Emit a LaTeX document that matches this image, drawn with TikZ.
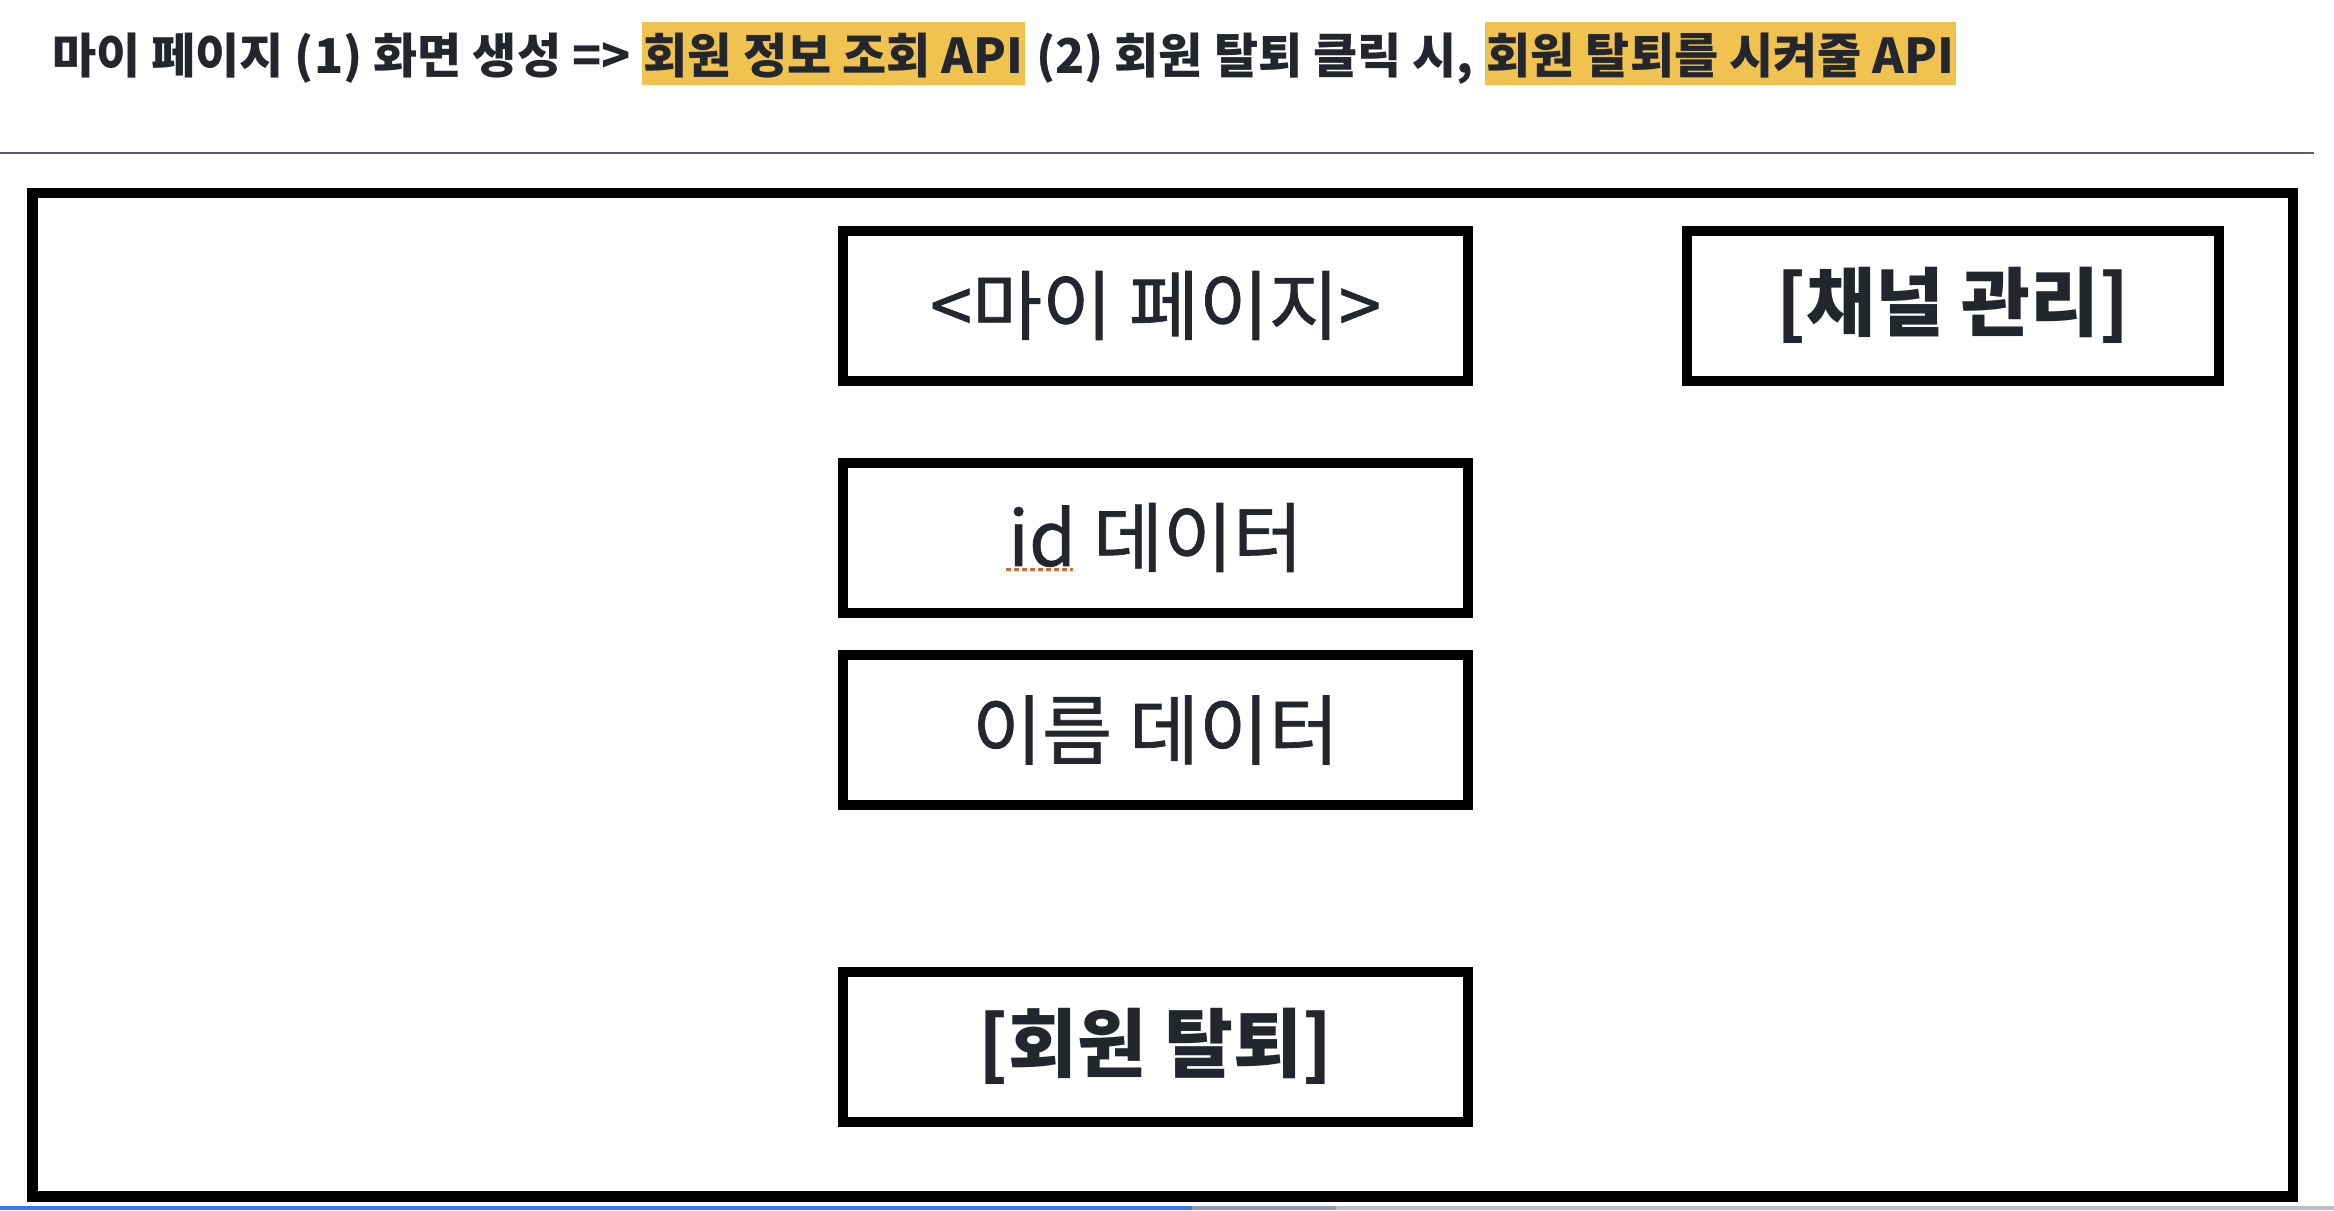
\documentclass[tikz,border=0pt]{standalone}
\usepackage{fontspec}
\newfontfamily\kr{Noto Sans CJK KR}
\newfontfamily\krm[FakeBold=0.9]{Noto Sans CJK KR}
\definecolor{ink}{RGB}{35,38,45}
\definecolor{hl}{RGB}{240,194,80}
\definecolor{rulegrey}{RGB}{90,94,102}
\definecolor{barblue}{RGB}{52,120,246}
\definecolor{bargrey}{RGB}{142,154,175}
\definecolor{barlight}{RGB}{185,190,203}
\definecolor{spell}{RGB}{205,110,60}
\newcommand\hlbox[1]{{\setlength\fboxsep{0pt}\colorbox{hl}{\rule[-12pt]{0pt}{63pt}\hspace{2pt}#1\hspace{2pt}}}}
\begin{document}
\begin{tikzpicture}[x=1pt,y=-1pt,
  panel/.style={draw=black, line width=10pt, minimum width=625pt, minimum height=150pt,
    inner sep=0pt, text=ink, font=\krm\fontsize{76}{86}\selectfont},
  boldpanel/.style={panel, font=\kr\bfseries\fontsize{75}{85}\selectfont},
  frame/.style={draw=black, line width=10.5pt, inner sep=0pt},
  titletext/.style={anchor=base west, inner sep=0pt, text=ink, font=\kr\bfseries\fontsize{48}{58}\selectfont}]
\useasboundingbox (0,0) rectangle (2334,1210);
\fill[white] (0,0) rectangle (2334,1210);
% title
\node[titletext] (title) at (52,73) {마이 페이지 (1) 화면 생성 => \hlbox{회원 정보 조회 API} (2) 회원 탈퇴 클릭 시, \hlbox{회원 탈퇴를 시켜줄 API}};
% separator rule
\coordinate (ruleL) at (0,153);
\coordinate (ruleR) at (2314,153);
\draw[rulegrey, line width=2.5pt] (ruleL) -- (ruleR);
% outer frame
\node[frame, minimum width=2260.5pt, minimum height=1003.5pt] (screen) at (1162.75,694.75) {};
% panels
\node[panel] (mypage) at (1155.5,305.5) {<마이 페이지>};
\node[boldpanel, minimum width=532pt] (channel) at (1953,305.5) {[채널 관리]};
\node[panel] (iddata) at (1155.5,537.5) {id 데이터};
\node[panel] (namedata) at (1155.5,730) {이름 데이터};
\node[boldpanel] (quit) at (1155.5,1046.5) {[회원 탈퇴]};
% spell-check underline
\coordinate (spA) at (1006,569);
\coordinate (spB) at (1073,569);
\draw[spell, line width=3pt, dash pattern=on 5pt off 3pt] (spA) -- (spB);
% progress bar
\fill[barblue] (0,1206) rectangle (1192,1210);
\fill[bargrey] (1192,1206) rectangle (1336,1210);
\fill[barlight] (1336,1206) rectangle (2334,1210);
\end{tikzpicture}
\end{document}
